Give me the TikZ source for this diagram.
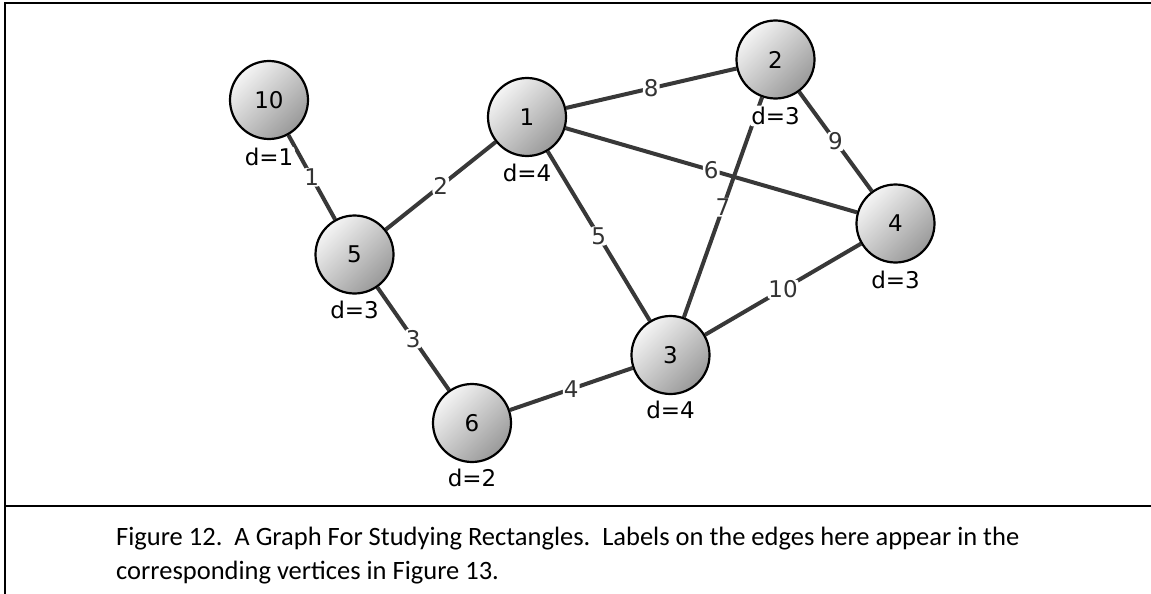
\documentclass[tikz,border=0pt]{standalone}
\usepackage{fontspec}
\setmainfont{DejaVu Sans}
\newfontfamily\capfont{Carlito}
\usetikzlibrary{backgrounds}
\begin{document}
\begin{tikzpicture}[x=1pt,y=-1pt,
  vtx/.style={circle, draw=black, line width=2.2pt, minimum size=78pt, inner sep=0pt,
    top color=black!4, bottom color=black!40, shading angle=45,
    font=\fontsize{23}{23}\selectfont},
  deg/.style={fill=white, rounded corners=3pt, inner sep=1.5pt, font=\fontsize{23}{23}\selectfont},
  edge/.style={draw=black!78, line width=4pt},
  elab/.style={fill=white, rounded corners=3pt, inner sep=1pt, text=black!80,
    font=\fontsize{23}{23}\selectfont},
  frame/.style={draw=black, line width=2.2pt},
  captxt/.style={anchor=base west, inner sep=0pt, font=\capfont\fontsize{26.5}{26.5}\selectfont}]
\useasboundingbox (0,0) rectangle (1151,594);
% frame
\coordinate (tl) at (5,3);
\coordinate (tr) at (1151,3);
\coordinate (bl) at (5,594);
\coordinate (sl) at (5,506);
\coordinate (sr) at (1151,506);
\draw[frame] (bl) -- (tl) -- (tr);
\draw[frame] (sl) -- (sr);
% vertices
\node[vtx] (n10) at (269,100) {10};
\node[vtx] (n1) at (527,117) {1};
\node[vtx] (n5) at (354.5,254.5) {5};
\node[vtx] (n2) at (775.5,59.5) {2};
\node[vtx] (n4) at (895.5,223.5) {4};
\node[vtx] (n3) at (670.5,355) {3};
\node[vtx] (n6) at (472,423) {6};
% degree labels
\node[deg] (d10) at (269,157) {d=1};
\node[deg] (d1) at (527,173) {d=4};
\node[deg] (d5) at (354.5,310) {d=3};
\node[deg] (d2) at (775.5,116) {d=3};
\node[deg] (d4) at (895.5,280) {d=3};
\node[deg] (d3) at (670.5,410) {d=4};
\node[deg] (d6) at (472,478) {d=2};
% edges
\begin{scope}[on background layer]
\draw[edge] (n10) -- node[elab] (e1) {1} (n5);
\draw[edge] (n5) -- node[elab] (e2) {2} (n1);
\draw[edge] (n5) -- node[elab] (e3) {3} (n6);
\draw[edge] (n6) -- node[elab] (e4) {4} (n3);
\draw[edge] (n1) -- node[elab] (e5) {5} (n3);
\draw[edge] (n1) -- node[elab] (e6) {6} (n4);
\draw[edge] (n3) -- node[elab] (e7) {7} (n2);
\draw[edge] (n1) -- node[elab] (e8) {8} (n2);
\draw[edge] (n2) -- node[elab] (e9) {9} (n4);
\draw[edge] (n3) -- node[elab] (e10) {10} (n4);
\end{scope}
% caption
\node[captxt] (cap1) at (116,545) {Figure 12.\ \ A Graph For Studying Rectangles.\ \ Labels on the edges here appear in the};
\node[captxt] (cap2) at (116,579) {corresponding vertices in Figure 13.};
\end{tikzpicture}
\end{document}
